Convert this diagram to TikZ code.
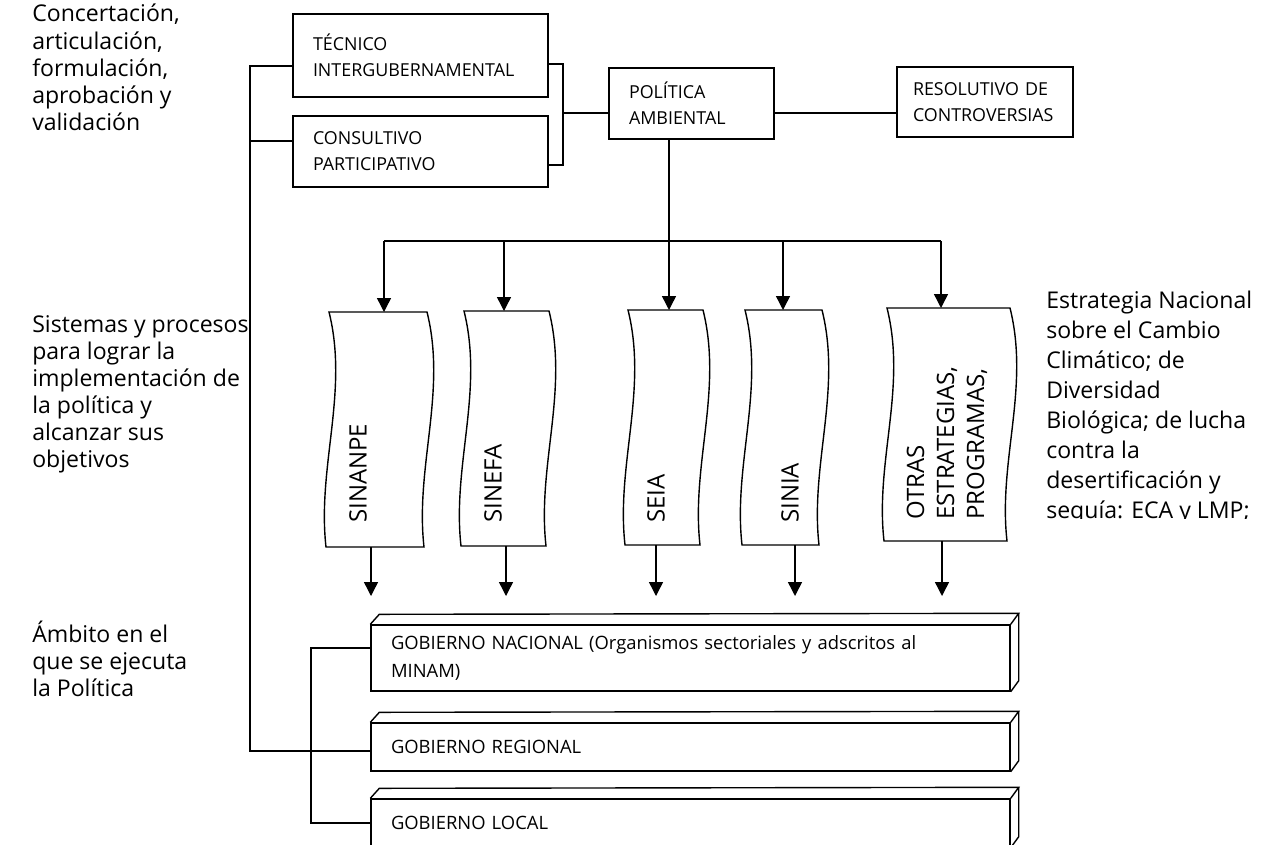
\documentclass[tikz,border=0pt]{standalone}
\usepackage{fontspec}
\setmainfont{Open Sans}
\usetikzlibrary{arrows.meta}
\tikzset{
  px/.style={x=0.75pt,y=-0.75pt},
  conn/.style={line width=1.05pt},
  boxst/.style={draw, conn, rectangle, align=left, inner xsep=15pt, inner ysep=0pt,
    font=\fontsize{13.4pt}{19.5pt}\selectfont},
  slabst/.style={draw, conn, rectangle, align=left, inner xsep=15pt, inner ysep=0pt,
    font=\fontsize{13.8pt}{20.5pt}\selectfont, text width=449.25pt},
  sidetext/.style={anchor=north west, inner sep=0pt, align=left,
    font=\fontsize{17.3pt}{20.3pt}\selectfont},
  tapetext/.style={rotate=90, anchor=west, inner sep=0pt, align=left,
    font=\fontsize{18pt}{22.5pt}\selectfont},
  arr/.style={-{Triangle[length=10.5pt,width=10.5pt]}}
}
\newcommand\tapepath[4]{% L R T B
  \draw[conn] (#1,#3) -- (#2,#3)
    .. controls ({#2+20},{#3+80}) and ({#2-12},{#4-80}) .. ({#2-3},#4)
    -- ({#1-3},#4)
    .. controls ({#1-12},{#4-80}) and ({#1+20},{#3+80}) .. (#1,#3) -- cycle;}
\newcommand\slabfaces[1]{%
  \draw[conn] (#1.north west) -- ([shift={(9,-10)}]#1.north west)
     -- ([shift={(8,-11)}]#1.north east) -- (#1.north east);
  \draw[conn] ([shift={(8,-11)}]#1.north east) -- ([shift={(8,-11)}]#1.south east)
     -- (#1.south east);}
\begin{document}
\begin{tikzpicture}[px]
\clip (0,0) rectangle (1266,844);
\fill[white] (0,0) rectangle (1266,844);

% side texts
\node[sidetext] (t1) at (32,4) {Concertación,\\articulación,\\formulación,\\aprobación y\\validación};
\node[sidetext] (t2) at (32,315) {Sistemas y procesos\\para lograr la\\implementación de\\la política y\\alcanzar sus\\objetivos};
\node[sidetext] (t3) at (32,621) {Ámbito en el\\que se ejecuta\\la Política};
\begin{scope}
\clip (1030,280) rectangle (1266,518);
\node[sidetext, font=\fontsize{17.3pt}{22.5pt}\selectfont] (t4) at (1046,291) {Estrategia Nacional\\sobre el Cambio\\Climático; de\\Diversidad\\Biológica; de lucha\\contra la\\desertificación y\\sequía: ECA y LMP;};
\end{scope}

% top boxes
\node[boxst, text width=161.25pt, minimum height=62.25pt] (tec) at (420.5,55.5) {TÉCNICO\\INTERGUBERNAMENTAL};
\node[boxst, text width=161.25pt, minimum height=53.25pt] (con) at (420.5,151.5) {CONSULTIVO\\PARTICIPATIVO};
\node[boxst, text width=93.75pt, minimum height=53.25pt] (pol) at (691.5,103.5) {POLÍTICA\\AMBIENTAL};
\node[boxst, text width=108pt, inner xsep=12pt, minimum height=52.5pt] (res) at (985,102) {RESOLUTIVO DE\\CONTROVERSIAS};

% connectors among top boxes
\coordinate (lbus) at (250,66);
\coordinate (lbusb) at (250,751);
\coordinate (rb) at (563,113);
\draw[conn] (tec.west |- lbus) -- (lbus) -- (lbusb) -- (lbusb -| 371,0);
\draw[conn] (lbus |- 0,141) -- (con.west |- 0,141);
\draw[conn] (tec.east |- 0,64) -| (rb) |- (con.east |- 0,165);
\draw[conn] (rb) -- (pol.west |- rb);
\draw[conn] (pol.east |- rb) -- (res.west |- rb);

% tapes
\tapepath{329}{427}{312}{547}
\tapepath{464}{549}{311}{546}
\tapepath{628}{703}{310}{545}
\tapepath{745}{822}{310}{545}
\tapepath{887}{1010}{308}{541}
\coordinate (sinanpeT) at (384,312);
\coordinate (sinefaT) at (504,311);
\coordinate (seiaT) at (669,310);
\coordinate (siniaT) at (783,310);
\coordinate (otrasT) at (941,308);
\node[tapetext] (sinanpe) at (358,523) {SINANPE};
\node[tapetext] (sinefa) at (493,523) {SINEFA};
\node[tapetext] (seia) at (656,523) {SEIA};
\node[tapetext] (sinia) at (790,523) {SINIA};
\node[tapetext] (otras) at (947,520) {OTRAS\\ESTRATEGIAS,\\PROGRAMAS,};

% bus and arrows down
\coordinate (bus) at (669,241);
\draw[conn, arr] (pol.south -| bus) -- (seiaT);
\draw[conn] (sinanpeT |- bus) -- (otrasT |- bus);
\draw[conn, arr] (sinanpeT |- bus) -- (sinanpeT);
\draw[conn, arr] (sinefaT |- bus) -- (sinefaT);
\draw[conn, arr] (siniaT |- bus) -- (siniaT);
\draw[conn, arr] (otrasT |- bus) -- (otrasT);

% government slabs
\node[slabst, minimum height=49.5pt] (nac) at (690.5,658) {GOBIERNO NACIONAL (Organismos sectoriales y adscritos al\\MINAM)};
\node[slabst, minimum height=36pt] (reg) at (690.5,747) {GOBIERNO REGIONAL};
\node[slabst, minimum height=36pt] (loc) at (690.5,823) {GOBIERNO LOCAL};
\slabfaces{nac}
\slabfaces{reg}
\slabfaces{loc}

% arrows from tapes to government
\foreach \xb/\yb in {371/547, 506/546, 656/545, 795/545, 942/541}{
  \draw[conn, arr] (\xb,\yb) -- (\xb,596);
}

% second bracket
\coordinate (lb2) at (311,648);
\draw[conn] (nac.west |- lb2) -- (lb2) -- (lb2 |- loc.west) -- (loc.west);
\end{tikzpicture}
\end{document}
